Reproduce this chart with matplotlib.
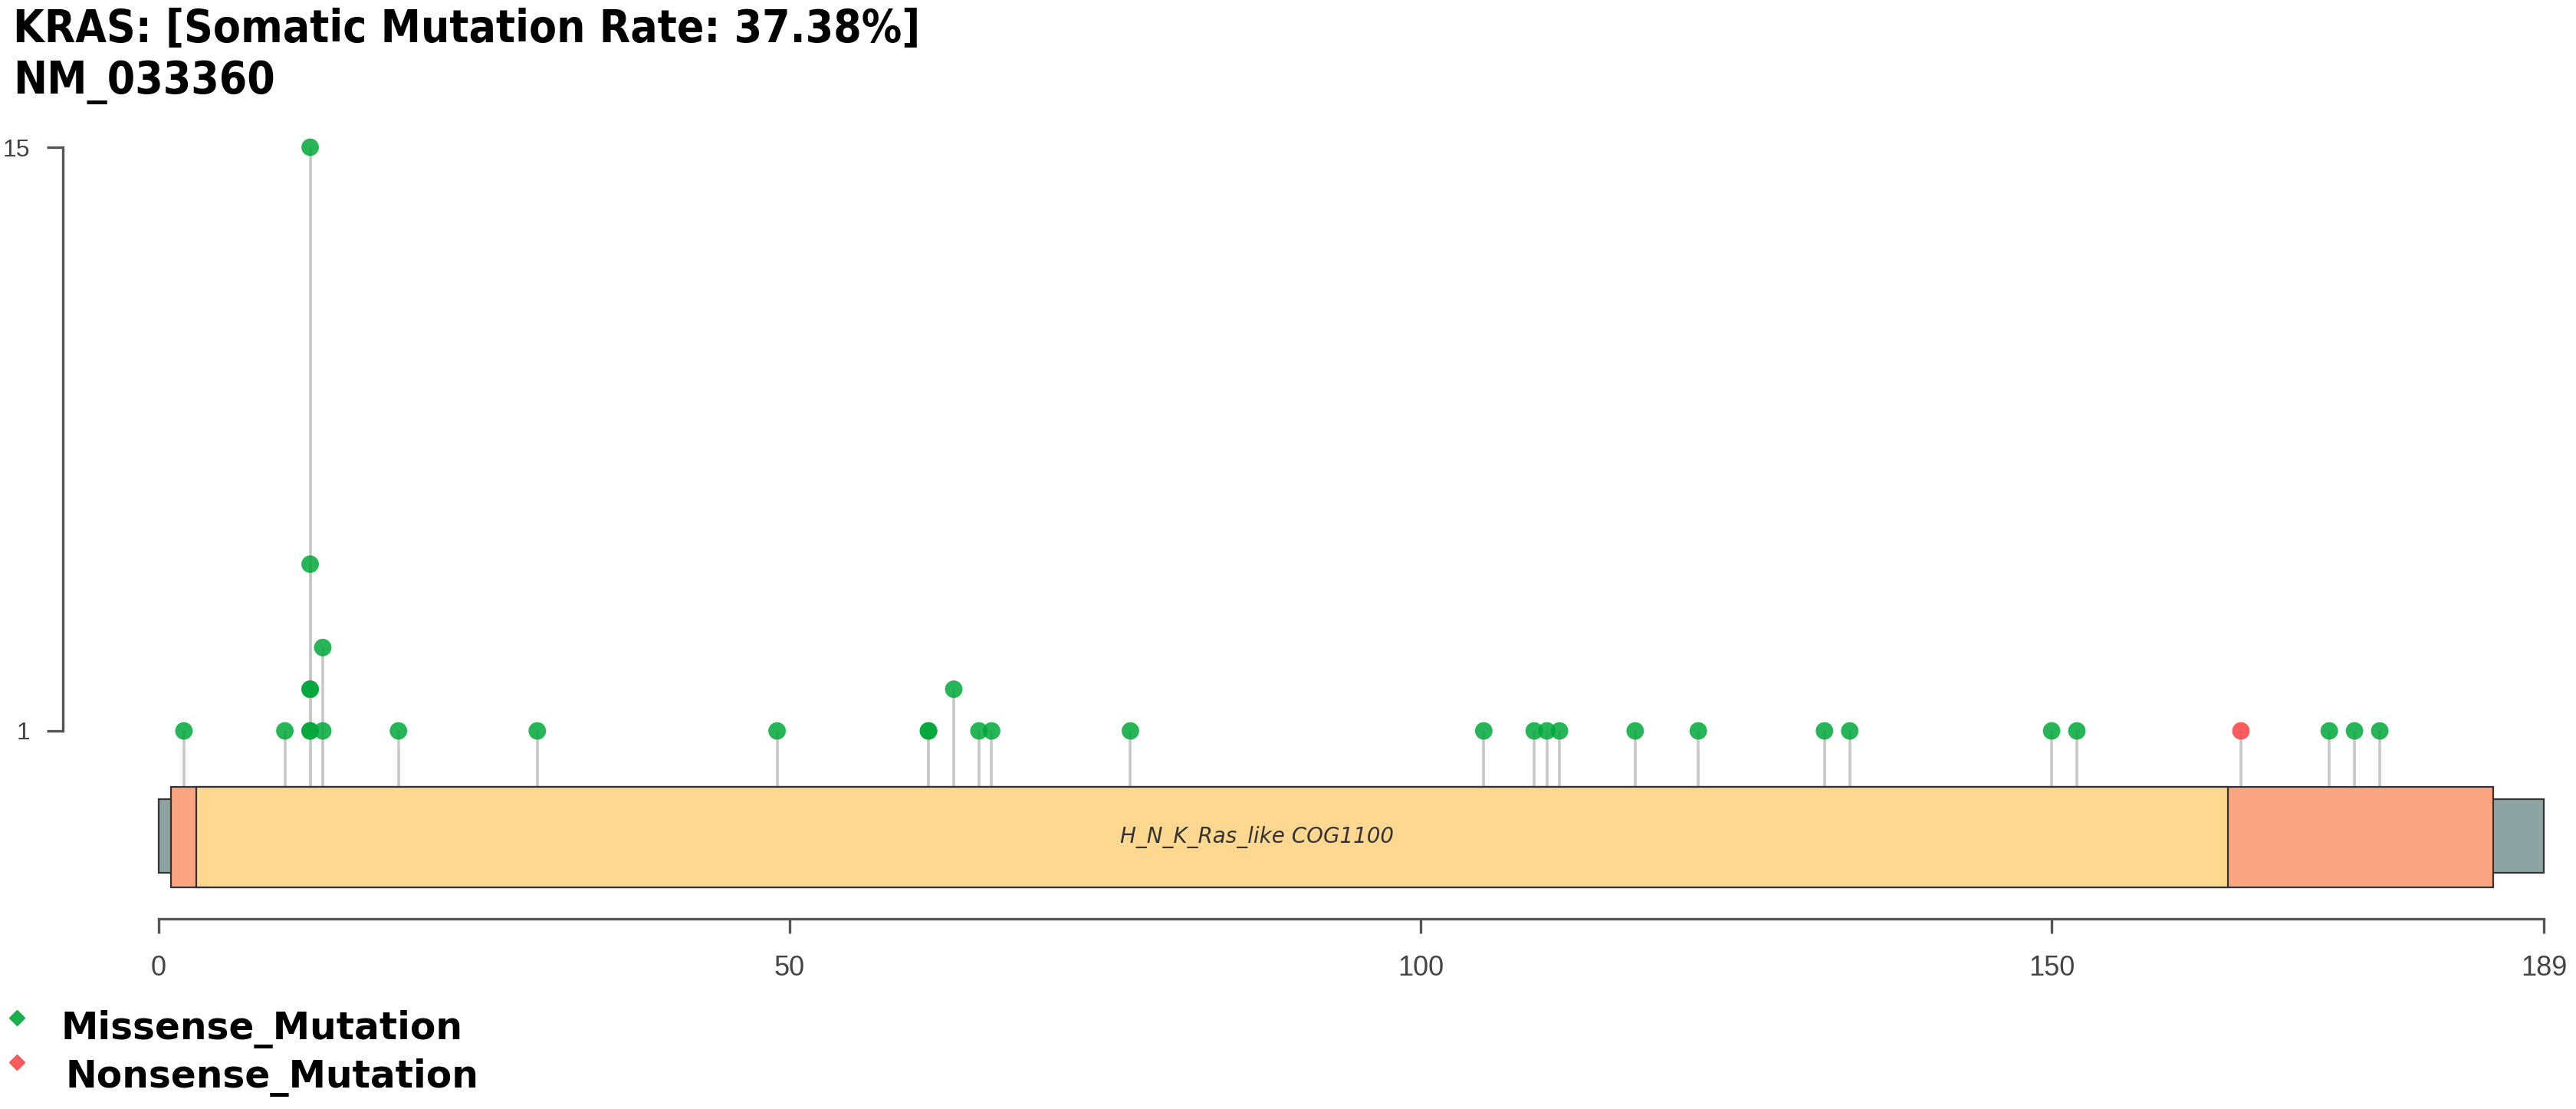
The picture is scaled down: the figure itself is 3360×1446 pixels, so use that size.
import numpy as np
import matplotlib
matplotlib.use('Agg')
import matplotlib.pyplot as plt
from matplotlib.patches import Rectangle

# mutation data (amino acid position, count)
missense_pos = [2, 10, 12, 12, 12, 12, 12, 12, 13, 13, 19, 30, 49, 61, 61, 63, 65, 66, 77,
                105, 109, 110, 111, 117, 122, 132, 134, 150, 152, 172, 174, 176]
missense_cnt = [1, 1, 1, 1, 2, 2, 5, 15, 1, 3, 1, 1, 1, 1, 1, 2, 1, 1, 1,
                1, 1, 1, 1, 1, 1, 1, 1, 1, 1, 1, 1, 1]
nonsense_pos = [165]
nonsense_cnt = [1]

# protein + domains
prot_len = 189
dom_start = [1, 3]
dom_end = [185, 164]
dom_label = ['', 'H_N_K_Ras_like COG1100']
dom_color = ['#FCA582', '#FED890']
label_pos = 87

xticks = [0, 50, 100, 150, 189]
yticks = [1, 15]

title1 = 'KRAS: [Somatic Mutation Rate: 37.38%]'
title2 = 'NM_033360'
legend_names = ['Missense_Mutation', 'Nonsense_Mutation']
legend_cols = ['#00a83a', '#f84a4a']

W, H = 3360, 1446
fig = plt.figure(figsize=(W / 100, H / 100), dpi=100)

# pixel layout of reference
x0_px, x189_px = 207, 3318
px_aa = (x189_px - x0_px) / prot_len
y1_px, y15_px = 953, 192
px_cnt = (y1_px - y15_px) / 14.0

def ydat(py):
    return 1 - (py - y1_px) / px_cnt

def xdat(px):
    return (px - x0_px) / px_aa

ax_l, ax_r, ax_t, ax_b = 60, 3345, 150, 1240
ax = fig.add_axes([ax_l / W, 1 - ax_b / H, (ax_r - ax_l) / W, (ax_b - ax_t) / H])
ax.set_xlim(xdat(ax_l), xdat(ax_r))
ax.set_ylim(ydat(ax_b), ydat(ax_t))
ax.patch.set_alpha(0)

box_top, box_bot = ydat(1026), ydat(1157)
bb_top, bb_bot = ydat(1042), ydat(1138)

# backbone
ax.add_patch(Rectangle((0, bb_bot), prot_len, bb_top - bb_bot, facecolor='#8EA4A3',
                       edgecolor='#333333', lw=1.6, zorder=2))
for s, e, c, lab in zip(dom_start, dom_end, dom_color, dom_label):
    ax.add_patch(Rectangle((s, box_bot), e - s, box_top - box_bot, facecolor=c,
                           edgecolor='#333333', lw=1.6, zorder=3))
ax.text(label_pos, (box_top + box_bot) / 2, dom_label[1], style='italic', fontsize=20,
        color='#333333', ha='center', va='center', zorder=4)

# stems + heads
allpos = missense_pos + nonsense_pos
allcnt = missense_cnt + nonsense_cnt
ax.vlines(allpos, box_top, allcnt, color='#c8c8c8', lw=2.6, zorder=1)
ax.scatter(missense_pos, missense_cnt, s=270, color=legend_cols[0], alpha=0.85,
           edgecolors='none', zorder=5)
ax.scatter(nonsense_pos, nonsense_cnt, s=270, color=legend_cols[1], alpha=0.9,
           edgecolors='none', zorder=5)

# axes styling
for sp in ['top', 'right']:
    ax.spines[sp].set_visible(False)
ax.spines['bottom'].set_position(('data', ydat(1198)))
ax.spines['bottom'].set_bounds(0, prot_len)
ax.spines['left'].set_position(('data', xdat(82)))
ax.spines['left'].set_bounds(1, 15)
for sp in ['bottom', 'left']:
    ax.spines[sp].set_color('#555555')
    ax.spines[sp].set_linewidth(2.4)
ax.set_xticks(xticks)
ax.set_xticklabels([str(t) for t in xticks])
ax.set_yticks(yticks)
ax.set_yticklabels([str(t) for t in yticks])
ax.tick_params(axis='x', length=14, width=2.4, color='#555555', pad=20,
               labelsize=26, labelcolor='#444444')
ax.tick_params(axis='y', length=15, width=2.4, color='#555555', pad=16,
               labelsize=23, labelcolor='#444444')
for lab in ax.get_xticklabels() + ax.get_yticklabels():
    lab.set_family(['Liberation Sans Narrow', 'Liberation Sans', 'DejaVu Sans'])

# title
fig.text(17 / W, 1 - 55 / H, title1, fontsize=42, weight='bold', stretch='condensed',
         family='DejaVu Sans', va='baseline', ha='left')
fig.text(17 / W, 1 - 122 / H, title2, fontsize=42, weight='bold', stretch='condensed',
         family='DejaVu Sans', va='baseline', ha='left')

# legend
leg_y = [1327, 1385]
leg_txt_x = [80, 86]
leg_txt_y = [1355, 1418]
for i in range(2):
    fig.add_artist(plt.Line2D([22 / W], [1 - leg_y[i] / H], marker='D', markersize=10,
                              color=legend_cols[i], alpha=0.9, lw=0))
    fig.text(leg_txt_x[i] / W, 1 - leg_txt_y[i] / H, legend_names[i], fontsize=35,
             weight='bold', va='baseline', ha='left')

fig.savefig('out.png', dpi=100)
